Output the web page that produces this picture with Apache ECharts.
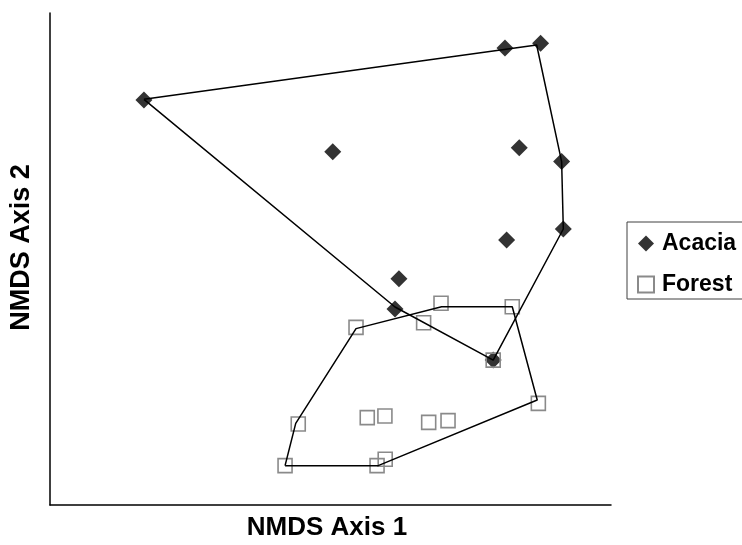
<!DOCTYPE html>
<html>
<head>
<meta charset="utf-8">
<script src="https://cdn.jsdelivr.net/npm/echarts@6/dist/echarts.min.js"></script>
<style>
html,body{margin:0;padding:0;background:#fff;}
#chart{width:742px;height:545px;}
</style>
</head>
<body>
<div id="chart"></div>
<script>
// NMDS scores (axis 1, axis 2)
var acaciaX = [-0.665, 0.622, 0.749, 0.008, 0.673, 0.824, 0.830, 0.628, 0.244, 0.230, 0.580];
var acaciaY = [0.646, 0.858, 0.877, 0.436, 0.452, 0.396, 0.122, 0.077, -0.080, -0.203, -0.411];

var forestX = [0.394, 0.648, 0.091, 0.332, 0.580, 0.741, -0.115, 0.131, 0.194, 0.350, 0.419, -0.162, 0.166, 0.195];
var forestY = [-0.180, -0.194, -0.278, -0.259, -0.411, -0.587, -0.671, -0.645, -0.638, -0.664, -0.657, -0.840, -0.840, -0.814];

// Convex hull outlines (closed polygons)
var acaciaHullX = [-0.665, 0.735, 0.824, 0.830, 0.580, 0.230, -0.665];
var acaciaHullY = [0.649, 0.870, 0.396, 0.122, -0.411, -0.195, 0.649];

var forestHullX = [-0.162, 0.170, 0.737, 0.648, 0.396, 0.091, -0.124, -0.162];
var forestHullY = [-0.840, -0.840, -0.573, -0.194, -0.194, -0.283, -0.668, -0.840];

var seriesNames = ['Acacia', 'Forest'];
var xTitle = 'NMDS Axis 1';
var yTitle = 'NMDS Axis 2';

function pairs(xs, ys) {
  return xs.map(function (v, i) { return [v, ys[i]]; });
}

var chart = echarts.init(document.getElementById('chart'), null, {renderer: 'canvas'});
var font = "'Liberation Sans', Arial, sans-serif";

var option = {
  animation: false,
  backgroundColor: '#ffffff',
  grid: {left: 50, top: 13, width: 561, height: 492, containLabel: false},
  xAxis: {
    type: 'value', min: -1, max: 1,
    axisLine: {show: true, onZero: false, lineStyle: {color: '#000', width: 1.5}},
    axisTick: {show: false}, axisLabel: {show: false}, splitLine: {show: false}
  },
  yAxis: {
    type: 'value', min: -1, max: 1,
    axisLine: {show: true, onZero: false, lineStyle: {color: '#000', width: 1.5}},
    axisTick: {show: false}, axisLabel: {show: false}, splitLine: {show: false}
  },
  legend: {
    data: seriesNames,
    orient: 'vertical',
    left: 627, top: 222,
    padding: [10, 40, 3, 10],
    itemWidth: 16, itemHeight: 16, itemGap: 18,
    borderColor: '#404040', borderWidth: 1,
    selectedMode: false,
    textStyle: {fontFamily: font, fontWeight: 'bold', fontSize: 23, color: '#000', padding: [0, 0, 0, 3]}
  },
  graphic: [
    {type: 'text', x: 327, y: 528,
     style: {text: xTitle, font: "bold 26px 'Liberation Sans', Arial, sans-serif", fill: '#000', align: 'center', verticalAlign: 'middle'}},
    {type: 'text', x: 22, y: 247.5, rotation: Math.PI / 2,
     style: {text: yTitle, font: "bold 27px 'Liberation Sans', Arial, sans-serif", fill: '#000', align: 'center', verticalAlign: 'middle'}}
  ],
  series: [
    {
      name: seriesNames[0], type: 'scatter', z: 2,
      symbol: 'diamond', symbolSize: 17,
      itemStyle: {color: '#333333', opacity: 1},
      data: pairs(acaciaX, acaciaY)
    },
    {
      name: seriesNames[1], type: 'scatter', z: 3,
      symbol: 'rect', symbolSize: 14,
      itemStyle: {color: 'rgba(255,255,255,0)', borderColor: '#8a8a8a', borderWidth: 1.6, opacity: 1},
      data: pairs(forestX, forestY)
    },
    {
      name: 'Acacia hull', type: 'line', z: 4, showSymbol: false, symbol: 'none',
      lineStyle: {color: '#000', width: 1.5}, silent: true,
      data: pairs(acaciaHullX, acaciaHullY)
    },
    {
      name: 'Forest hull', type: 'line', z: 4, showSymbol: false, symbol: 'none',
      lineStyle: {color: '#000', width: 1.5}, silent: true,
      data: pairs(forestHullX, forestHullY)
    }
  ]
};
chart.setOption(option);
</script>
</body>
</html>
